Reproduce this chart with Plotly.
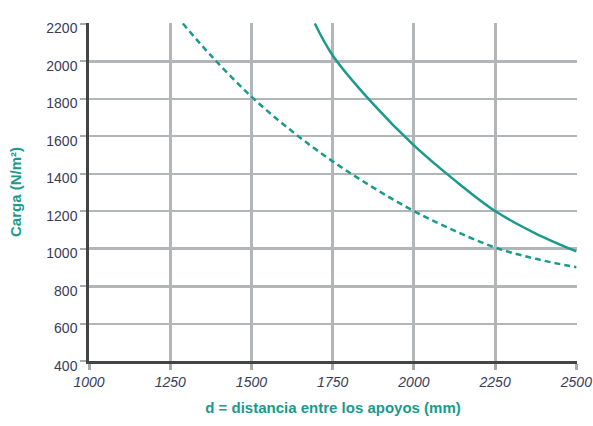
import plotly.graph_objects as go

# Data
x_solid = [1695, 1750, 1875, 2000, 2125, 2250, 2375, 2500]
y_solid = [2200, 2030, 1770, 1550, 1365, 1200, 1080, 985]
x_dashed = [1289, 1375, 1500, 1625, 1750, 1875, 2000, 2125, 2250, 2375, 2500]
y_dashed = [2200, 2030, 1810, 1625, 1465, 1325, 1200, 1095, 1005, 945, 900]

x_ticks = [1000, 1250, 1500, 1750, 2000, 2250, 2500]
y_ticks = [400, 600, 800, 1000, 1200, 1400, 1600, 1800, 2000, 2200]
y_heavy_grid = [800, 1000, 2000, 2200]

teal = "#1a9a8b"
label_col = "#383c58"
grid_col = "#b3b6b8"
font_fam = "Liberation Sans, Arial, sans-serif"

fig = go.Figure()
# empty trace so the overlay axis carrying the heavier gridlines is drawn
fig.add_trace(go.Scatter(x=[], y=[], yaxis="y2", showlegend=False, hoverinfo="skip"))
fig.add_trace(go.Scatter(x=x_dashed, y=y_dashed, mode="lines",
                         line=dict(color=teal, width=2.5, dash="6px,4px", shape="spline"),
                         showlegend=False))
fig.add_trace(go.Scatter(x=x_solid, y=y_solid, mode="lines",
                         line=dict(color=teal, width=2.5, shape="spline"),
                         showlegend=False))

fig.update_layout(
    width=593, height=426,
    margin=dict(l=89, r=16, t=23, b=65),
    paper_bgcolor="white", plot_bgcolor="white",
    font=dict(family=font_fam, size=14, color=label_col),
    yaxis2=dict(overlaying="y", range=[400, 2203], tickvals=y_heavy_grid,
                showticklabels=False, showgrid=True, gridcolor=grid_col, gridwidth=2.5,
                zeroline=False, showline=False, ticks="", automargin=False),
)
fig.update_xaxes(
    range=[1000, 2502], tickvals=x_ticks, ticktext=[str(v) for v in x_ticks],
    showgrid=True, gridcolor=grid_col, gridwidth=2.5,
    showline=True, linecolor="#444444", linewidth=2.5,
    ticks="outside", ticklen=6, tickwidth=2.5, tickcolor="#a8abad",
    tickfont=dict(family=font_fam, size=14, color=label_col, style="italic"),
    ticklabeloverflow="allow",
    zeroline=False, automargin=False,
    title=dict(text="<b>d = distancia entre los apoyos (mm)</b>",
               font=dict(family=font_fam, size=15, color=teal), standoff=14),
)
fig.update_layout(yaxis=dict(
    range=[400, 2203], tickvals=y_ticks, ticktext=[str(v) for v in y_ticks],
    showgrid=True, gridcolor=grid_col, gridwidth=1.5,
    showline=True, linecolor="#444444", linewidth=2.5,
    ticks="outside", ticklen=6, tickwidth=2, tickcolor="#a8abad",
    tickfont=dict(family=font_fam, size=14, color=label_col),
    ticklabelshift=5, ticklabeloverflow="allow",
    zeroline=False, automargin=False,
    title=dict(text="<b>Carga (N/m²)</b>",
               font=dict(family=font_fam, size=15, color=teal), standoff=22),
))

fig.write_html("out.html", config={"displayModeBar": False},
               post_script="document.body.style.margin='0';document.body.style.overflow='hidden';")
